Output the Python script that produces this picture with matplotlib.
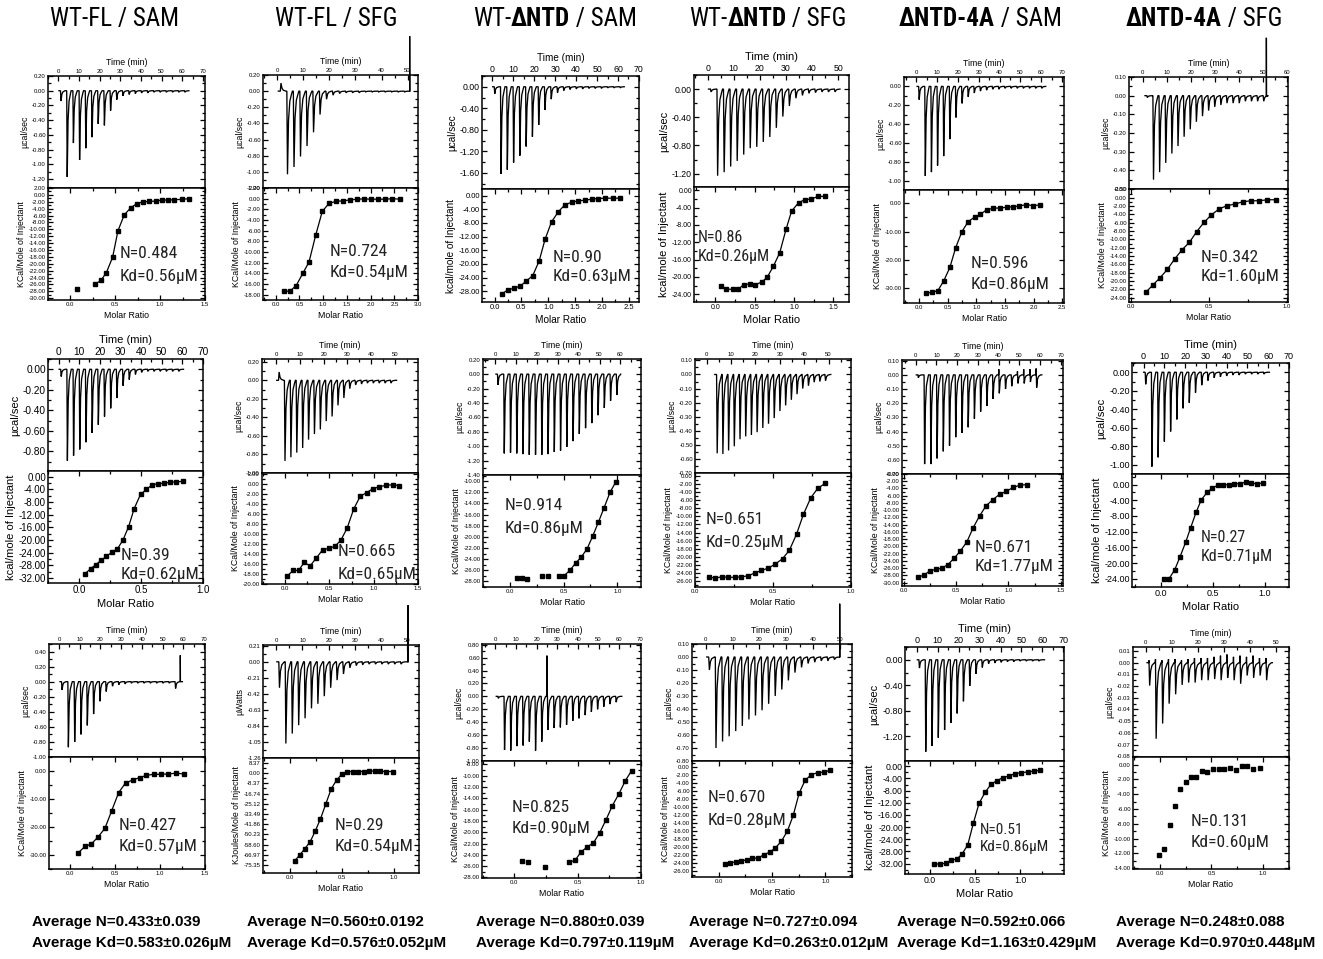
import matplotlib
matplotlib.use("Agg")
import matplotlib.pyplot as plt
from matplotlib import font_manager
from matplotlib.ticker import (MultipleLocator, AutoMinorLocator, FormatStrFormatter,
                               FixedLocator, FixedFormatter)

W, H = 1323, 959

# ---------------------------------------------------------------- data
titles = [
    [("WT-FL / SAM", False)],
    [("WT-FL / SFG", False)],
    [("WT-", False), ("\u0394NTD", True), (" / SAM", False)],
    [("WT-", False), ("\u0394NTD", True), (" / SFG", False)],
    [("\u0394NTD-4A", True), (" / SAM", False)],
    [("\u0394NTD-4A", True), (" / SFG", False)],
]
avg_n = ["0.433\u00b10.039", "0.560\u00b10.0192", "0.880\u00b10.039",
         "0.727\u00b10.094", "0.592\u00b10.066", "0.248\u00b10.088"]
avg_kd = ["0.583\u00b10.026", "0.576\u00b10.052", "0.797\u00b10.119",
          "0.263\u00b10.012", "1.163\u00b10.429", "0.970\u00b10.448"]

# fit results printed in each panel (row by row)
n_labels = ["0.484", "0.724", "0.90", "0.86", "0.596", "0.342",
            "0.39", "0.665", "0.914", "0.651", "0.671", "0.27",
            "0.427", "0.29", "0.825", "0.670", "0.51", "0.131"]
kd_labels = ["0.56", "0.54", "0.63", "0.26", "0.86", "1.60",
             "0.62", "0.65", "0.86", "0.25", "1.77", "0.71",
             "0.57", "0.54", "0.90", "0.28", "0.86", "0.60"]

# injection timing (min): first injection, spacing, end of run
inj_start = [1.1, 1.2, 0.9, 1.15, 1.1, 1.65,
             1.1, 1.13, 1.1, 4.1, 1.1, 0.8,
             1.3, 1.0, 1.3, 1.1, 1.1, 1.3]
inj_step = [3.0, 2.5, 3.0, 2.5, 2.95, 2.55,
            3.0, 2.47, 3.0, 2.34, 3.0, 3.0,
            3.04, 2.45, 3.0, 2.46, 3.0, 2.5]
run_end = [61.0, 50.8, 60.3, 50.6, 61.2, 51.4,
           60.6, 50.6, 59.0, 50.9, 60.8, 60.6,
           59.5, 50.4, 61.2, 50.0, 61.0, 48.7]

# raw thermogram peak heights (ucal/sec) per injection
r1c1_peaks = [-0.14, -1.17, -0.71, -0.94, -0.78, -0.63, -0.45, -0.47, -0.27, -0.12, -0.07,
              -0.05, -0.04, -0.03, -0.03, -0.02, -0.02, -0.02, -0.02, -0.02, -0.02]
r1c2_peaks = [0.10, -1.03, -0.94, -0.81, -0.68, -0.51, -0.29, -0.10, -0.05, -0.03,
              -0.02, -0.02, -0.02, -0.01, -0.01, -0.01, -0.01, -0.01, -0.01, -0.01]
r1c3_peaks = [-0.13, -1.62, -1.54, -1.41, -1.28, -1.11, -0.93, -0.71, -0.43, -0.23, -0.11,
              -0.07, -0.05, -0.04, -0.04, -0.03, -0.03, -0.03, -0.02, -0.02, -0.02]
r1c4_peaks = [-0.04, -1.23, -1.18, -1.10, -1.02, -0.93, -0.84, -0.82, -0.75, -0.68,
              -0.55, -0.39, -0.24, -0.13, -0.09, -0.06, -0.05, -0.04, -0.04, -0.04]
r1c5_peaks = [-0.14, -0.95, -0.91, -0.84, -0.74, -0.56, -0.33, -0.18, -0.11, -0.07, -0.05,
              -0.04, -0.03, -0.03, -0.02, -0.02, -0.02, -0.02, -0.02, -0.02, -0.02]
r1c6_peaks = [-0.01, -0.45, -0.41, -0.36, -0.31, -0.27, -0.22, -0.18, -0.14, -0.11,
              -0.08, -0.06, -0.05, -0.04, -0.04, -0.04, -0.03, -0.03, -0.03, -0.03]
r2c1_peaks = [-0.07, -0.89, -0.84, -0.78, -0.71, -0.62, -0.54, -0.46, -0.38, -0.28,
              -0.16, -0.10, -0.05, -0.03, -0.02, -0.02, -0.02, -0.02, -0.02, -0.02]
r2c2_peaks = [0.09, -0.87, -0.83, -0.78, -0.73, -0.64, -0.58, -0.53, -0.44, -0.39,
              -0.27, -0.19, -0.09, -0.05, -0.04, -0.03, -0.03, -0.03, -0.03, -0.03]
r2c3_peaks = [-0.15, -1.10, -1.09, -1.10, -1.11, -1.12, -1.12, -1.12, -1.11, -1.08,
              -1.06, -1.01, -0.93, -0.83, -0.75, -0.68, -0.57, -0.47, -0.37, -0.29]
r2c4_peaks = [-0.56, -0.565, -0.54, -0.51, -0.46, -0.44, -0.43, -0.41, -0.38, -0.35,
              -0.31, -0.26, -0.22, -0.18, -0.14, -0.10, -0.08, -0.055, -0.05, -0.045]
r2c5_peaks = [-0.02, -0.63, -0.63, -0.59, -0.54, -0.50, -0.44, -0.41, -0.37, -0.31,
              -0.26, -0.22, -0.17, -0.13, -0.10, -0.08, -0.06, -0.06, -0.05, -0.09]
r2c6_peaks = [-0.13, -1.02, -0.92, -0.75, -0.64, -0.51, -0.39, -0.33, -0.22, -0.14,
              -0.09, -0.06, -0.05, -0.04, -0.03, -0.03, -0.02, -0.02, -0.02, -0.02]
r3c1_peaks = [-0.11, -0.87, -0.80, -0.70, -0.58, -0.43, -0.26, -0.13, -0.06, -0.04,
              -0.03, -0.02, -0.02, -0.02, -0.02, -0.02, -0.02, -0.02, -0.09]
r3c2_peaks = [-0.34, -1.07, -0.94, -0.83, -0.74, -0.61, -0.55, -0.45, -0.34, -0.24,
              -0.16, -0.08, -0.05, -0.04, -0.03, -0.03, -0.03, -0.03, -0.03, -0.03]
r3c3_peaks = [-0.03, -0.83, -0.84, -0.77, -0.76, -0.70, -0.84, -0.70, -0.52, -0.49,
              -0.48, -0.44, -0.38, -0.34, -0.29, -0.24, -0.20, -0.16, -0.12, -0.09]
r3c4_peaks = [-0.10, -0.70, -0.65, -0.61, -0.57, -0.53, -0.48, -0.45, -0.41, -0.36,
              -0.30, -0.25, -0.18, -0.12, -0.08, -0.05, -0.04, -0.03, -0.03, -0.02]
r3c5_peaks = [-0.13, -1.44, -1.35, -1.22, -1.10, -0.99, -0.84, -0.65, -0.41, -0.22,
              -0.12, -0.06, -0.05, -0.04, -0.03, -0.03, -0.02, -0.02, -0.02, -0.02]
r3c6_peaks = [-0.0196, -0.065, -0.052, -0.035, -0.027, -0.019, -0.017, -0.017, -0.015, -0.015,
              -0.014, -0.015, -0.013, -0.015, -0.018, -0.011, -0.013, -0.011, -0.015]

# positive overshoot just before an injection (only where visible)
r2c5_rebound = [0] * 13 + [0.04, 0, 0, 0.025, 0.04, 0.04, 0.045]
r3c6_rebound = [0.002, 0.003, 0.002, 0.003, 0.003, 0.002, 0.003, 0.004, 0.004, 0.004,
                0.005, 0.006, 0.007, 0.005, 0.006, 0.005, 0.006, 0.004, 0.004]

# artefact spikes (time, value)
r1c2_spikes = [(50.8, 0.68)]
r1c6_spikes = [(51.4, 0.31)]
r3c1_spikes = [(58.5, 0.35)]
r3c2_spikes = [(50.4, 0.74)]
r3c3_spikes = [(25.0, 0.63)]
r3c4_spikes = [(50.0, 0.41)]

# integrated heats vs molar ratio
r1c1_ratio = [0.074, 0.27, 0.34, 0.40, 0.47, 0.53, 0.60, 0.67, 0.74, 0.81, 0.88, 0.95,
              1.02, 1.09, 1.16, 1.24, 1.32]
r1c1_heat = [-27.4, -26.0, -24.8, -22.6, -18.1, -10.4, -5.8, -3.8, -2.5, -2.0, -1.9, -1.8,
             -1.5, -1.5, -1.4, -1.3, -1.1]
r1c2_ratio = [0.17, 0.29, 0.43, 0.57, 0.70, 0.84, 0.98, 1.12, 1.27, 1.42, 1.56, 1.71,
              1.86, 2.01, 2.16, 2.31, 2.46, 2.62]
r1c2_heat = [-17.25, -17.4, -16.3, -14.0, -11.9, -6.9, -2.4, -0.9, -0.5, -0.4, -0.25, -0.1,
             -0.05, -0.1, -0.1, -0.1, 0.0, -0.1]
r1c3_ratio = [0.14, 0.25, 0.36, 0.48, 0.59, 0.71, 0.83, 0.94, 1.06, 1.19, 1.31, 1.44,
              1.56, 1.68, 1.81, 1.93, 2.06, 2.20, 2.33]
r1c3_heat = [-28.7, -27.5, -27.1, -26.4, -25.0, -23.4, -19.1, -12.8, -7.7, -4.7, -2.7, -1.95,
             -1.56, -1.37, -1.07, -0.88, -0.78, -0.78, -0.78]
r1c4_ratio = [0.07, 0.14, 0.22, 0.29, 0.36, 0.44, 0.51, 0.59, 0.66, 0.74, 0.82, 0.90,
              0.97, 1.06, 1.14, 1.22, 1.31, 1.39]
r1c4_heat = [-22.15, -22.8, -22.9, -22.9, -21.8, -21.6, -21.8, -21.2, -20.1, -17.5, -14.4,
             -9.0, -4.8, -2.85, -2.15, -2.0, -1.4, -1.4]
r1c5_ratio = [0.13, 0.23, 0.33, 0.43, 0.54, 0.64, 0.75, 0.86, 0.97, 1.07, 1.18, 1.30,
              1.42, 1.53, 1.64, 1.75, 1.87, 1.99, 2.11]
r1c5_heat = [-31.8, -31.5, -30.9, -27.6, -22.7, -15.8, -10.0, -6.5, -4.9, -3.9, -2.35,
             -1.75, -1.65, -1.4, -1.2, -0.95, -0.5, -0.8, -0.6]
r1c6_ratio = [0.092, 0.139, 0.184, 0.231, 0.278, 0.325, 0.373, 0.420, 0.467, 0.514,
              0.565, 0.615, 0.666, 0.717, 0.769, 0.820, 0.874, 0.927]
r1c6_heat = [-22.7, -20.9, -19.2, -17.2, -14.7, -12.5, -10.7, -8.1, -5.9, -4.1, -2.65,
             -1.9, -1.5, -0.96, -0.72, -0.72, -0.48, -0.48]
r2c1_ratio = [0.048, 0.093, 0.136, 0.179, 0.221, 0.267, 0.31, 0.355, 0.40, 0.445, 0.496,
              0.544, 0.589, 0.637, 0.685, 0.733, 0.784, 0.835]
r2c1_heat = [-30.7, -29.1, -27.8, -26.4, -25.2, -23.8, -22.8, -20.0, -15.8, -10.1, -5.6,
             -4.0, -2.6, -2.2, -2.1, -1.8, -1.6, -1.5]
r2c2_ratio = [0.019, 0.093, 0.153, 0.216, 0.283, 0.354, 0.424, 0.495, 0.562, 0.629, 0.70,
              0.774, 0.849, 0.919, 0.99, 1.064, 1.139, 1.217, 1.291]
r2c2_heat = [-18.5, -17.3, -17.3, -15.7, -16.4, -14.8, -13.2, -12.9, -12.5, -11.3, -8.9,
             -5.1, -2.5, -1.85, -1.0, -0.66, -0.33, -0.26, -0.4]
r2c3_ratio = [0.062, 0.112, 0.161, 0.30, 0.354, 0.453, 0.503, 0.559, 0.612, 0.665, 0.717,
              0.77, 0.823, 0.876, 0.932, 0.984]
r2c3_heat = [-27.3, -27.4, -27.6, -27.1, -27.0, -27.0, -27.0, -26.0, -24.7, -23.6, -22.2,
             -19.9, -17.4, -14.8, -12.0, -10.2]
r2c4_ratio = [0.09, 0.13, 0.172, 0.214, 0.256, 0.298, 0.342, 0.384, 0.426, 0.471, 0.515,
              0.561, 0.605, 0.651, 0.695, 0.742, 0.788, 0.836]
r2c4_heat = [-25.1, -25.25, -25.0, -25.1, -25.1, -25.0, -24.7, -24.0, -23.4, -22.8, -21.8,
             -20.5, -18.4, -14.4, -9.5, -5.4, -3.0, -1.8]
r2c5_ratio = [0.133, 0.19, 0.248, 0.305, 0.362, 0.423, 0.483, 0.54, 0.604, 0.664, 0.724,
              0.788, 0.851, 0.915, 0.978, 1.045, 1.109, 1.176]
r2c5_heat = [-28.4, -28.0, -26.8, -26.3, -26.0, -25.0, -23.2, -21.3, -18.7, -14.8, -11.6,
             -8.7, -7.1, -5.6, -4.8, -3.7, -3.1, -2.9]
r2c6_ratio = [0.032, 0.08, 0.135, 0.186, 0.24, 0.288, 0.34, 0.39, 0.446, 0.497, 0.551,
              0.603, 0.657, 0.708, 0.763, 0.817, 0.872, 0.926, 0.984]
r2c6_heat = [-24.0, -24.0, -21.7, -18.4, -14.7, -11.0, -7.1, -3.9, -2.0, -0.86, -0.17,
             -0.09, 0.0, 0.17, 0.26, 0.6, 0.43, 0.17, 0.43]
r3c1_ratio = [0.096, 0.17, 0.24, 0.317, 0.39, 0.464, 0.542, 0.619, 0.696, 0.774, 0.851,
              0.93, 1.01, 1.095, 1.18, 1.264]
r3c1_heat = [-29.2, -27.0, -26.1, -23.5, -20.5, -14.3, -7.7, -4.2, -3.2, -2.3, -1.5, -1.1,
             -1.1, -1.0, -0.7, -1.0]
r3c2_ratio = [0.048, 0.096, 0.144, 0.196, 0.247, 0.295, 0.346, 0.397, 0.449, 0.5, 0.551,
              0.606, 0.657, 0.708, 0.763, 0.817, 0.869, 0.923, 0.994]
r3c2_heat = [-71.9, -67.3, -62.1, -56.4, -47.1, -37.6, -25.3, -13.1, -5.7, -0.8, 1.4, 1.4,
             1.4, 1.4, 1.6, 1.9, 1.6, 1.4, 1.4]
r3c3_ratio = [0.063, 0.108, 0.242, 0.429, 0.479, 0.526, 0.576, 0.624, 0.674, 0.724, 0.774,
              0.826, 0.876, 0.926]
r3c3_heat = [-25.1, -25.2, -26.2, -25.3, -25.0, -23.5, -22.6, -21.9, -20.1, -17.8, -15.3,
             -13.2, -10.9, -9.1]
r3c4_ratio = [0.056, 0.106, 0.158, 0.211, 0.264, 0.317, 0.37, 0.425, 0.478, 0.531, 0.587,
              0.643, 0.699, 0.755, 0.811, 0.87, 0.929, 0.984, 1.047]
r3c4_heat = [-24.3, -23.9, -23.75, -23.5, -23.2, -22.8, -22.8, -21.9, -21.3, -20.25, -18.6,
             -16.1, -12.1, -6.5, -3.3, -1.9, -1.4, -1.3, -0.8]
r3c5_ratio = [0.044, 0.111, 0.174, 0.233, 0.296, 0.356, 0.419, 0.481, 0.544, 0.611, 0.678,
              0.744, 0.811, 0.878, 0.944, 1.015, 1.085, 1.156, 1.226]
r3c5_heat = [-32.0, -32.2, -31.8, -30.9, -30.5, -28.8, -25.8, -18.7, -12.2, -8.6, -5.9,
             -4.7, -3.7, -3.2, -2.4, -2.1, -1.85, -1.6, -1.3]
r3c6_ratio = [-0.006, 0.045, 0.097, 0.148, 0.2, 0.252, 0.3, 0.355, 0.406, 0.461, 0.516,
              0.571, 0.626, 0.68, 0.739, 0.794, 0.848, 0.906, 0.968]
r3c6_heat = [-12.2, -11.4, -8.2, -5.55, -3.25, -2.4, -1.6, -1.6, -0.9, -1.0, -0.54, -0.54,
             -0.54, -0.4, -0.72, -0.23, -0.23, -0.54, -0.4]

# kJ axis of the WT-FL/SFG repeat
r3c2_kj_ticks = ["8.37", "0.00", "-8.37", "-16.74", "-25.12", "-33.49", "-41.86",
                 "-50.23", "-58.60", "-66.97", "-75.35"]

peaks = [r1c1_peaks, r1c2_peaks, r1c3_peaks, r1c4_peaks, r1c5_peaks, r1c6_peaks,
         r2c1_peaks, r2c2_peaks, r2c3_peaks, r2c4_peaks, r2c5_peaks, r2c6_peaks,
         r3c1_peaks, r3c2_peaks, r3c3_peaks, r3c4_peaks, r3c5_peaks, r3c6_peaks]
rebounds = [None] * 10 + [r2c5_rebound] + [None] * 6 + [r3c6_rebound]
spikes = [[], r1c2_spikes, [], [], [], r1c6_spikes,
          [], [], [], [], [], [],
          r3c1_spikes, r3c2_spikes, r3c3_spikes, r3c4_spikes, [], []]
ratios = [r1c1_ratio, r1c2_ratio, r1c3_ratio, r1c4_ratio, r1c5_ratio, r1c6_ratio,
          r2c1_ratio, r2c2_ratio, r2c3_ratio, r2c4_ratio, r2c5_ratio, r2c6_ratio,
          r3c1_ratio, r3c2_ratio, r3c3_ratio, r3c4_ratio, r3c5_ratio, r3c6_ratio]
heats = [r1c1_heat, r1c2_heat, r1c3_heat, r1c4_heat, r1c5_heat, r1c6_heat,
         r2c1_heat, r2c2_heat, r2c3_heat, r2c4_heat, r2c5_heat, r2c6_heat,
         r3c1_heat, r3c2_heat, r3c3_heat, r3c4_heat, r3c5_heat, r3c6_heat]
# first point joined by the fit curve (None = points only)
fit_from = [1, 0, 0, 0, 0, 0,
            0, 0, 5, 0, 0, 0,
            0, 0, 3, 0, 0, None]

# ---------------------------------------------------------------- layout
# axes box in pixels: left, right, top, split, bottom
boxes = [(48, 205, 76, 188, 300), (263, 418, 75, 188, 300), (482, 639, 76, 189, 302),
         (694, 849, 75, 187, 302), (904, 1064, 77, 190, 303), (1129, 1288, 77, 189, 302),
         (48, 203, 359, 471, 583), (262, 418, 359, 473, 584), (483, 641, 359, 475, 587),
         (695, 851, 359, 473, 587), (902, 1063, 360, 474, 586), (1132, 1289, 363, 474, 587),
         (49, 205, 644, 757, 869), (263, 419, 645, 758, 873), (482, 641, 644, 761, 878),
         (692, 852, 644, 761, 877), (905, 1064, 647, 761, 874), (1133, 1289, 647, 757, 869)]
top_xlim = [(-5, 71), (-5.5, 54), (-5, 70.05), (-5.2, 54.2), (-6, 71), (-5.8, 60.4),
            (-5.1, 70.05), (-5.85, 59.6), (-5.9, 69.9), (-4.8, 59.2), (-6.6, 71), (-5.6, 70.05),
            (-4.8, 70.4), (-5.1, 54.6), (-6.4, 70.5), (-5.2, 54.6), (-5.6, 70.3), (-4.9, 55.1)]
top_ylim = [(-1.32, 0.2), (-1.2, 0.2), (-1.9, 0.2), (-1.39, 0.2), (-1.1, 0.1), (-0.5, 0.1),
            (-0.99, 0.1), (-1.0, 0.23), (-1.4, 0.21), (-0.70, 0.11), (-0.70, 0.105), (-1.1, 0.1),
            (-1.0, 0.5), (-1.26, 0.22), (-1.0, 0.81), (-0.80, 0.10), (-1.585, 0.2), (-0.0806, 0.0134)]
top_ystep = [0.2, 0.2, 0.4, 0.4, 0.2, 0.1,
             0.2, 0.2, 0.2, 0.1, 0.1, 0.2,
             0.2, 0.21, 0.2, 0.1, 0.4, 0.01]
bot_xlim = [(-0.25, 1.5), (-0.27, 3.0), (-0.235, 2.69), (-0.27, 1.70), (-0.26, 2.53), (-0.015, 1.006),
            (-0.25, 1.0), (-0.26, 1.5), (-0.25, 1.22), (0.0, 1.0), (-0.015, 1.52), (-0.276, 1.234),
            (-0.23, 1.5), (-0.256, 1.24), (-0.255, 1.0), (-0.25, 1.25), (-0.28, 1.49), (-0.258, 1.25)]
bot_ylim = [(-30.5, 2), (-19, 2), (-31.1, 1.9), (-25.8, 0.77), (-35.3, 4.7), (-25, 2.1),
            (-33.6, 1.8), (-20, 2.1), (-29.0, -8.9), (-27.5, 0.75), (-30.9, 0.0), (-26.1, 2.7),
            (-35.1, 5.1), (-82, 12.5), (-28.1, -7.4), (-27.5, 1.5), (-35.4, 1.74), (-14.1, 1.04)]
bot_ystep = [2, 2, 4, 4, 10, 2,
             4, 2, 2, 2, 2, 4,
             10, 8.372, 2, 2, 4, 2]
bot_ylabels = ["KCal/Mole of Injectant", "KCal/Mole of Injectant", "kcal/mole of Injectant",
               "kcal/mole of Injectant", "KCal/Mole of Injectant", "KCal/Mole of Injectant",
               "kcal/mole of Injectant", "KCal/Mole of Injectant", "KCal/Mole of Injectant",
               "KCal/Mole of Injectant", "KCal/Mole of Injectant", "kcal/mole of Injectant",
               "KCal/Mole of Injectant", "KJoules/Mole of Injectant", "KCal/Mole of Injectant",
               "KCal/Mole of Injectant", "kcal/mole of Injectant", "KCal/Mole of Injectant"]
top_ylabels = ["\u00b5cal/sec"] * 18
top_ylabels[13] = "\u00b5Watts"
# font sizes: top ticks, bottom ticks, axis labels
fsizes = [(4.3, 4.3, 6.3), (4.3, 4.3, 6.3), (6.3, 5.5, 7.2), (6.3, 5.0, 8.0), (4.3, 4.3, 6.3), (4.3, 4.3, 6.3),
          (7.3, 7.0, 8.0), (4.3, 4.3, 6.3), (4.3, 4.3, 6.3), (4.3, 4.3, 6.3), (4.3, 4.3, 6.3), (6.5, 6.5, 8.0),
          (4.3, 4.3, 6.3), (4.3, 4.3, 6.3), (4.3, 4.3, 6.3), (4.3, 4.3, 6.3), (6.5, 6.3, 8.0), (4.3, 4.3, 6.3)]
# fit annotation: x, y of first line, y of second line, font size
ann = [(120, 254, 277, 12.5), (330, 251, 272, 12.5), (553, 257, 277, 12.5),
       (698, 238, 256, 11.5), (971, 263, 285, 12.5), (1201, 257, 277, 12.5),
       (121, 555, 574, 12.5), (338, 552, 575, 12.5), (505, 505, 528, 12.5),
       (706, 520, 542, 12.5), (975, 547, 567, 12.5), (1201, 538, 557, 11.5),
       (119, 826, 847, 12.5), (335, 826, 847, 12.5), (512, 807, 828, 12.5),
       (708, 798, 820, 12.5), (980, 830, 847, 11.0), (1191, 822, 842, 12.5)]
title_x = [114, 336, 555, 768, 980, 1204]
avg_x = [32, 247, 476, 689, 897, 1116]


def pick(*cands):
    names = {f.name for f in font_manager.fontManager.ttflist}
    for c in cands:
        if c in names:
            return c
    return "DejaVu Sans"


SANS = pick("Liberation Sans", "Arial", "DejaVu Sans")
NARROW = pick("Liberation Sans Narrow", "Arial Narrow", "Roboto Condensed",
              "Open Sans Condensed", "Liberation Sans")
plt.rcParams["font.family"] = [SANS, "DejaVu Sans"]


def build_trace(t0, dt, hs, end, rebound, spk):
    """Thermogram line: baseline with one sharp peak per injection."""
    events = []
    for i, h in enumerate(hs):
        t = t0 + i * dt
        r = rebound[i] if rebound else 0.0
        pts = [(t - 0.15, 0.0), (t - 0.05, r), (t + 0.2, h), (t + 0.6, 0.35 * h),
               (t + 1.1, 0.12 * h), (t + 1.8, 0.03 * h), (t + 2.1, 0.0)]
        events.append((t, pts))
    for t, v in spk:
        events.append((t, [(t, 0.0), (t, v), (t + 0.05, 0.0)]))
    events.sort(key=lambda e: e[0])
    xs, ys = [t0 - 0.8], [0.0]
    for _, pts in events:
        for x, y in pts:
            xs.append(x)
            ys.append(y)
    if end > xs[-1]:
        xs.append(end)
        ys.append(0.0)
    return xs, ys


def px_axes(fig, l, r, t, b):
    return fig.add_axes([l / W, 1 - b / H, (r - l) / W, (b - t) / H])


def style(ax, fs):
    for s in ax.spines.values():
        s.set_linewidth(1.1)
    ax.tick_params(which="both", direction="in", labelsize=fs, width=0.9, pad=1.5)
    ax.tick_params(which="major", length=3.5)
    ax.tick_params(which="minor", length=2.0)


fig = plt.figure(figsize=(W / 100, H / 100), dpi=100)

for i in range(18):
    l, r, t, m, b = boxes[i]
    fs_top, fs_bot, fs_lab = fsizes[i]

    # raw heat trace
    ax = px_axes(fig, l, r, t, m)
    xs, ys = build_trace(inj_start[i], inj_step[i], peaks[i], run_end[i], rebounds[i], spikes[i])
    ax.plot(xs, ys, color="black", lw=0.95, clip_on=False, solid_joinstyle="miter")
    ax.set_xlim(*top_xlim[i])
    ax.set_ylim(*top_ylim[i])
    ax.xaxis.set_major_locator(MultipleLocator(10))
    ax.xaxis.set_minor_locator(AutoMinorLocator(2))
    ax.xaxis.set_major_formatter(FormatStrFormatter("%d"))
    ax.yaxis.set_major_locator(MultipleLocator(top_ystep[i]))
    ax.yaxis.set_minor_locator(AutoMinorLocator(2))
    ax.yaxis.set_major_formatter(FormatStrFormatter("%.2f"))
    ax.xaxis.tick_top()
    ax.xaxis.set_label_position("top")
    ax.tick_params(axis="x", which="both", top=True, bottom=False, labeltop=True, labelbottom=False)
    ax.tick_params(axis="y", which="both", left=True, right=True)
    style(ax, fs_top)
    ax.set_xlabel("Time (min)", fontsize=fs_lab, labelpad=3)
    ax.set_ylabel(top_ylabels[i], fontsize=fs_lab, labelpad=2)

    # integrated heats
    bx = px_axes(fig, l, r, m, b)
    fr = fit_from[i]
    if fr is not None:
        bx.plot(ratios[i][fr:], heats[i][fr:], color="black", lw=0.9)
    bx.plot(ratios[i], heats[i], ls="none", marker="s", ms=3.1, color="black")
    bx.set_xlim(*bot_xlim[i])
    bx.set_ylim(*bot_ylim[i])
    bx.xaxis.set_major_locator(MultipleLocator(0.5))
    bx.xaxis.set_minor_locator(AutoMinorLocator(2))
    bx.xaxis.set_major_formatter(FormatStrFormatter("%.1f"))
    if i == 13:
        bx.yaxis.set_major_locator(FixedLocator([bot_ystep[i] * k for k in range(1, -10, -1)]))
        bx.yaxis.set_major_formatter(FixedFormatter(r3c2_kj_ticks))
        bx.yaxis.set_minor_locator(FixedLocator([bot_ystep[i] * (k + 0.5) for k in range(1, -10, -1)]))
    else:
        bx.yaxis.set_major_locator(MultipleLocator(bot_ystep[i]))
        bx.yaxis.set_minor_locator(AutoMinorLocator(2))
        bx.yaxis.set_major_formatter(FormatStrFormatter("%.2f"))
    bx.tick_params(axis="x", which="both", top=True, bottom=True)
    bx.tick_params(axis="y", which="both", left=True, right=True)
    style(bx, fs_bot)
    bx.set_xlabel("Molar Ratio", fontsize=fs_lab, labelpad=3)
    bx.set_ylabel(bot_ylabels[i], fontsize=fs_lab, labelpad=2)

    ax_x, y1, y2, afs = ann[i]
    fig.text(ax_x / W, 1 - y1 / H, "N=" + n_labels[i], fontsize=afs, family=[NARROW, "DejaVu Sans"],
             color="#222222", va="center", ha="left")
    fig.text(ax_x / W, 1 - y2 / H, "Kd=" + kd_labels[i] + "\u00b5M", fontsize=afs,
             family=[NARROW, "DejaVu Sans"], color="#222222", va="center", ha="left")

# column titles with mixed weights
renderer = fig.canvas.get_renderer()
for c in range(6):
    pieces = []
    for s, bold in titles[c]:
        txt = fig.text(0, 1 - 19 / H, s, fontsize=18, family=[NARROW, "DejaVu Sans"],
                       fontweight="bold" if bold else "normal", va="center", ha="left")
        pieces.append(txt)
    widths = [p.get_window_extent(renderer).width for p in pieces]
    x = title_x[c] - sum(widths) / 2
    for p, w in zip(pieces, widths):
        p.set_x(x / W)
        x += w

# averages under each column
for c in range(6):
    fig.text(avg_x[c] / W, 1 - 922 / H, "Average N=" + avg_n[c], fontsize=11,
             fontweight="bold", va="center", ha="left")
    fig.text(avg_x[c] / W, 1 - 943 / H, "Average Kd=" + avg_kd[c] + "\u00b5M", fontsize=11,
             fontweight="bold", va="center", ha="left")

fig.savefig("out.png", dpi=100)
